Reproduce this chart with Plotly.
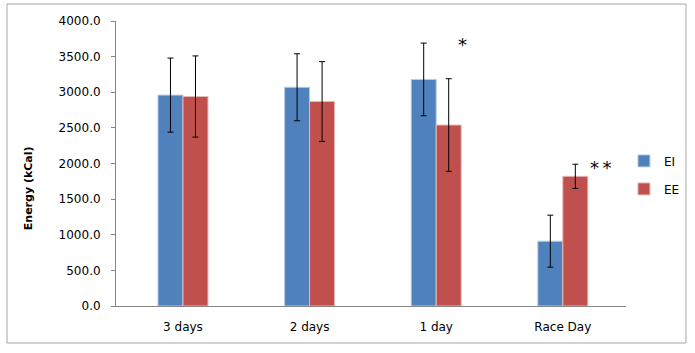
import plotly.graph_objects as go

categories = ["3 days", "2 days", "1 day", "Race Day"]
ei_values = [2960, 3070, 3180, 910]
ei_errors = [520, 470, 510, 365]
ee_values = [2940, 2870, 2540, 1820]
ee_errors = [570, 560, 650, 170]
y_ticks = [0, 500, 1000, 1500, 2000, 2500, 3000, 3500, 4000]
y_tick_labels = [f"{v:.1f}" for v in y_ticks]

FONT = "DejaVu Sans"

fig = go.Figure()
fig.add_trace(go.Bar(
    x=categories, y=ei_values, name="EI",
    marker=dict(color="#4F81BD", line=dict(color="#B9CDE5", width=1)),
    error_y=dict(type="data", array=ei_errors, color="black", thickness=1, width=3),
    legendgroup="a",
))
fig.add_trace(go.Bar(
    x=categories, y=ee_values, name="EE",
    marker=dict(color="#C0504D", line=dict(color="#E6B9B8", width=1)),
    error_y=dict(type="data", array=ee_errors, color="black", thickness=1, width=3),
    legendgroup="b",
))

fig.add_annotation(x="1 day", y=3670, text="*", showarrow=False, xshift=26,
                   font=dict(family=FONT, size=18, color="black"))
fig.add_annotation(x="Race Day", y=1940, text="*\u2009*", showarrow=False, xshift=38,
                   font=dict(family=FONT, size=18, color="black"))
fig.add_annotation(xref="paper", yref="paper", x=-0.188, y=0.412,
                   text="<b>Energy (kCal)</b>", textangle=-90, showarrow=False,
                   font=dict(family=FONT, size=11, color="black"))

fig.add_shape(type="rect", xref="paper", yref="paper",
              x0=-0.2137, x1=1.1176, y0=-0.1298, y1=1.0596,
              line=dict(color="#A6A6A6", width=1), layer="below")

fig.update_layout(
    width=695, height=353,
    margin=dict(l=116, r=69, t=21, b=47, autoexpand=False),
    paper_bgcolor="white", plot_bgcolor="white",
    barmode="group", bargap=0.605, bargroupgap=0,
    font=dict(family=FONT, size=12, color="black"),
    showlegend=True,
    legend=dict(x=0.996, y=0.56, xanchor="left", yanchor="top",
                font=dict(family=FONT, size=12),
                traceorder="grouped", tracegroupgap=9,
                itemwidth=30, bgcolor="rgba(0,0,0,0)"),
    xaxis=dict(range=[-0.529, 3.499], showline=True, linecolor="#868686", linewidth=1,
               ticks="", showgrid=False, tickfont=dict(size=12),
               ticklabelstandoff=10),
    yaxis=dict(range=[0, 4000], tickvals=y_ticks, ticktext=y_tick_labels,
               showline=True, linecolor="#868686", linewidth=1,
               ticks="outside", ticklen=4, tickcolor="#868686",
               showgrid=False, zeroline=False, tickfont=dict(size=12),
               ticklabelstandoff=8),
)

fig.write_html("out.html", config={"displayModeBar": False},
               post_script="document.body.style.margin='0';")
